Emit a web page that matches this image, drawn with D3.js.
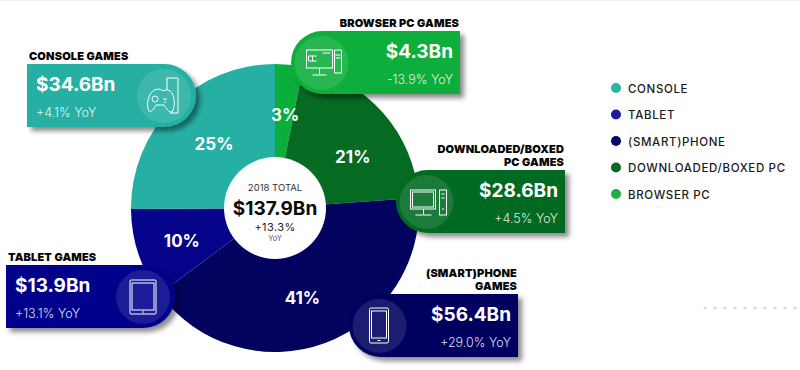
<!DOCTYPE html>
<html>
<head>
<meta charset="utf-8">
<script src="https://d3js.org/d3.v7.min.js"></script>
<style>
  html, body { margin: 0; padding: 0; background: #fff; }
  svg { display: block; }
  text { font-family: Inter, "Open Sans", sans-serif; }
</style>
</head>
<body>
<div id="chart"></div>
<script>
// data, clockwise from 12 o'clock
var segments = ["Browser PC", "Downloaded/Boxed PC", "(Smart)phone", "Tablet", "Console"];
var revenue = [4.3, 28.6, 56.4, 13.9, 34.6];
var shareLabels = ["3%", "21%", "41%", "10%", "25%"];
var revenueLabels = ["$4.3Bn", "$28.6Bn", "$56.4Bn", "$13.9Bn", "$34.6Bn"];
var yoyLabels = ["-13.9% YoY", "+4.5% YoY", "+29.0% YoY", "+13.1% YoY", "+4.1% YoY"];
var cardTitles = [["BROWSER PC GAMES"], ["DOWNLOADED/BOXED", "PC GAMES"], ["(SMART)PHONE", "GAMES"], ["TABLET GAMES"], ["CONSOLE GAMES"]];
var legendLabels = ["CONSOLE", "TABLET", "(SMART)PHONE", "DOWNLOADED/BOXED PC", "BROWSER PC"];
var legendKeys = ["Console", "Tablet", "(Smart)phone", "Downloaded/Boxed PC", "Browser PC"];
var sliceColors = ["#0bae3a", "#056a22", "#03025f", "#05038a", "#25b0a3"];
var legendColors = ["#2bb3a6", "#1e1a9a", "#08066b", "#056a22", "#1db04a"];

var width = 800, height = 370;
var cx = 275, cy = 208, outerR = 144, innerR = 51;

var svg = d3.select("#chart").append("svg").attr("width", width).attr("height", height);

// faint line along the top edge of the original
svg.append("rect").attr("width", width).attr("height", 1).attr("fill", "#efefef");

// soft drop shadow for the cards
var shadow = svg.append("defs").append("filter").attr("id", "shadow")
    .attr("x", "-10%").attr("y", "-15%").attr("width", "125%").attr("height", "140%");
shadow.append("feDropShadow")
    .attr("dx", 4).attr("dy", 4).attr("stdDeviation", 2.5)
    .attr("flood-color", "#000").attr("flood-opacity", 0.45);

var color = d3.scaleOrdinal().domain(segments).range(sliceColors);
var legendColor = d3.scaleOrdinal().domain(legendKeys).range(legendColors);

// pie
var pie = d3.pie().sort(null).value(function(d) { return d.value; });
var pieData = pie(segments.map(function(s, i) { return {name: s, value: revenue[i], share: shareLabels[i]}; }));
var arc = d3.arc().innerRadius(0).outerRadius(outerR);
var labelArc = d3.arc().innerRadius(93).outerRadius(93);

var g = svg.append("g").attr("transform", "translate(" + cx + "," + cy + ")");
g.selectAll("path").data(pieData).enter().append("path")
    .attr("d", arc)
    .attr("fill", function(d) { return color(d.data.name); });

// small nudges so the % labels land where the original has them
var labelNudge = [[1, -1], [8, 10], [-5, 3], [-5, 3], [5, 1]];
g.selectAll("text.share").data(pieData).enter().append("text")
    .attr("class", "share")
    .attr("transform", function(d, i) {
      var c = labelArc.centroid(d);
      return "translate(" + (c[0] + labelNudge[i][0]) + "," + (c[1] + labelNudge[i][1]) + ")";
    })
    .attr("text-anchor", "middle").attr("dy", "0.36em")
    .attr("fill", "#fff").attr("font-size", 17).attr("font-weight", 700)
    .text(function(d) { return d.data.share; });

// centre
g.append("circle").attr("r", innerR).attr("fill", "#fff");
var centre = [
  {t: "2018 TOTAL", y: -17, s: 9.5, w: 400, c: "#333", ls: 0},
  {t: "$137.9Bn", y: 7, s: 19, w: 700, c: "#0a0a0a", ls: 0},
  {t: "+13.3%", y: 23, s: 11, w: 400, c: "#222", ls: 0.4},
  {t: "YoY", y: 33, s: 7.5, w: 400, c: "#555", ls: 0}
];
g.selectAll("text.centre").data(centre).enter().append("text")
    .attr("class", "centre").attr("text-anchor", "middle")
    .attr("y", function(d) { return d.y; })
    .attr("font-size", function(d) { return d.s; })
    .attr("font-weight", function(d) { return d.w; })
    .attr("letter-spacing", function(d) { return d.ls; })
    .attr("fill", function(d) { return d.c; })
    .text(function(d) { return d.t; });

// card layout, same order as segments. side = which end is rounded
var cardW = 169, cardH = 63;
var cards = [
  {x: 291, y: 31, side: "left", icon: iconBrowser},
  {x: 396, y: 170, side: "left", icon: iconDesktop},
  {x: 349, y: 294, side: "left", icon: iconPhone},
  {x: 6, y: 265, side: "right", icon: iconTablet},
  {x: 27, y: 64, side: "right", icon: iconConsole}
];

function cardPath(w, h, side) {
  var r = h / 2;
  if (side == "right") {
    return "M0,0H" + (w - r) + "A" + r + "," + r + " 0 0 1 " + (w - r) + "," + h + "H0Z";
  }
  return "M" + r + ",0H" + w + "V" + h + "H" + r + "A" + r + "," + r + " 0 0 1 " + r + ",0Z";
}

cards.forEach(function(c, i) {
  var card = svg.append("g").attr("transform", "translate(" + c.x + "," + c.y + ")");
  var left = c.side == "right";
  card.append("path")
      .attr("d", cardPath(cardW, cardH, c.side))
      .attr("fill", color(segments[i]))
      .attr("filter", "url(#shadow)");

  // lighter disc behind the icon
  var discX = left ? cardW - 32 : 30.5;
  card.append("circle").attr("cx", discX).attr("cy", cardH / 2 + 0.5).attr("r", 27)
      .attr("fill", "#fff").attr("fill-opacity", 0.11);
  var ic = card.append("g").attr("transform", "translate(" + discX + "," + (cardH / 2 + 0.5) + ")")
      .attr("fill", "none").attr("stroke", "#fff").attr("stroke-width", 1);
  c.icon(ic);

  var textX = left ? 9 : cardW - 7;
  var anchor = left ? "start" : "end";
  card.append("text").attr("x", textX).attr("y", 27)
      .attr("text-anchor", anchor).attr("fill", "#fff")
      .attr("font-size", 19).attr("font-weight", 700)
      .text(revenueLabels[i]);
  card.append("text").attr("x", textX).attr("y", 53)
      .attr("text-anchor", anchor).attr("fill", "#fff").attr("fill-opacity", 0.88)
      .attr("font-size", 12.5).attr("font-weight", 300)
      .text(yoyLabels[i]);

  // title above the card, last line 4px over the top edge
  var titleX = left ? 2 : cardW - 1;
  var lines = cardTitles[i];
  lines.forEach(function(line, j) {
    card.append("text")
        .attr("x", titleX)
        .attr("y", -4 - (lines.length - 1 - j) * 13)
        .attr("text-anchor", anchor)
        .attr("fill", "#050505")
        .attr("font-size", 11).attr("font-weight", 900)
        .attr("letter-spacing", 0.15)
        .text(line);
  });
});

// icons, drawn around the disc centre
function iconConsole(g) {
  g.append("path").attr("d", "M3,-6V-18H14V17H6");
  g.append("path").attr("d", "M-11,-5C-7,-8 -3,-7 -1,-5C2,-7 6,-6 8,-3C11,3 11,11 8,16C5,17 2,12 0,9H-8C-10,13 -13,17 -15,15C-18,9 -16,-1 -11,-5Z");
  g.append("circle").attr("cx", -9).attr("cy", 3).attr("r", 3);
  g.append("path").attr("d", "M-1,3H3M0,6H2");
}
function iconBrowser(g) {
  g.append("rect").attr("x", -15).attr("y", -13).attr("width", 26).attr("height", 18);
  g.append("path").attr("d", "M-2,5V11M-9,12H5M15,-13H20V10H13V-13H15M14,-8H19M14,-5H19");
  g.append("path").attr("d", "M-13,-7H-5M-13,-2H-5M-13,-7V-2M-9,-7V-2M1,-10H9");
}
function iconDesktop(g) {
  g.append("rect").attr("x", -16).attr("y", -12).attr("width", 25).attr("height", 19);
  g.append("rect").attr("x", -14).attr("y", -10).attr("width", 21).attr("height", 15);
  g.append("path").attr("d", "M-3,7V12M-11,13H5");
  g.append("rect").attr("x", 13).attr("y", -12).attr("width", 7).attr("height", 25);
  g.append("path").attr("d", "M15,-8H18M15,-4H18M16.5,6V8");
}
function iconPhone(g) {
  g.append("rect").attr("x", -10).attr("y", -18).attr("width", 19).attr("height", 35).attr("rx", 1.5);
  g.append("rect").attr("x", -8).attr("y", -15).attr("width", 15).attr("height", 27);
  g.append("path").attr("d", "M-2,14.5H1");
}
function iconTablet(g) {
  g.append("rect").attr("x", -13).attr("y", -17).attr("width", 26).attr("height", 34).attr("rx", 1);
  g.append("rect").attr("x", -11).attr("y", -14).attr("width", 22).attr("height", 27);
  g.append("path").attr("d", "M-1,15H1");
}

// legend
var legendY = d3.scalePoint().domain(legendKeys).range([88, 194]);
var legend = svg.selectAll("g.legend").data(legendKeys).enter().append("g")
    .attr("class", "legend")
    .attr("transform", function(d) { return "translate(616," + legendY(d) + ")"; });
legend.append("circle").attr("r", 5).attr("fill", function(d) { return legendColor(d); });
legend.append("text").attr("x", 12).attr("y", 4.5)
    .attr("fill", "#1a1a1a").attr("font-size", 11.5).attr("font-weight", 500)
    .attr("letter-spacing", 0.65)
    .text(function(d, i) { return legendLabels[i]; });

// row of pale dots bottom right
svg.selectAll("circle.dot").data(d3.range(10)).enter().append("circle")
    .attr("class", "dot")
    .attr("cx", function(d) { return 705 + d * 10; })
    .attr("cy", 308).attr("r", 1.6).attr("fill", "#d9d9d9");
</script>
</body>
</html>
